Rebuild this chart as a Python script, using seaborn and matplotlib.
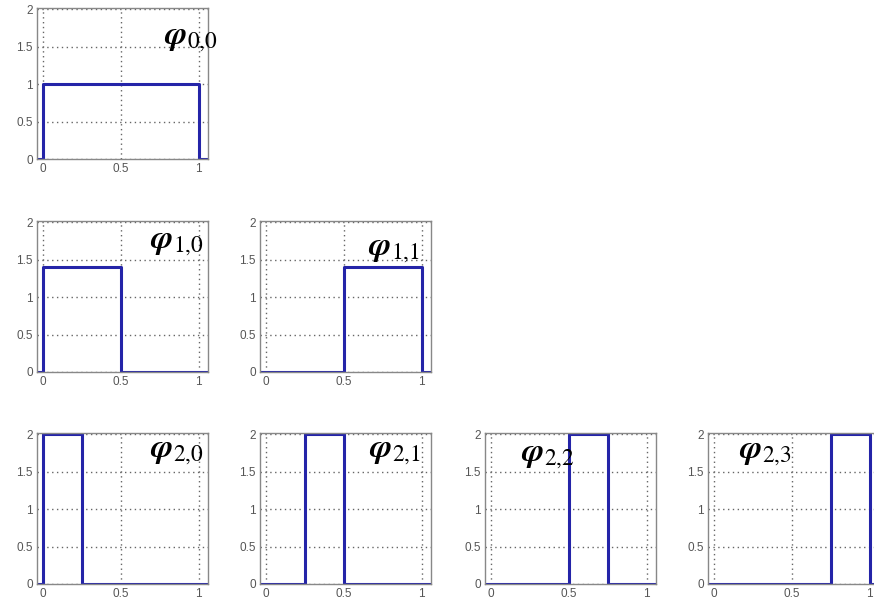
import numpy as np
import pandas as pd
import matplotlib
matplotlib.use("Agg")
import matplotlib.pyplot as plt
import seaborn as sns

# Haar scaling functions phi_{j,k}
levels = [0, 1, 1, 2, 2, 2, 2]
shifts = [0, 0, 1, 0, 1, 2, 3]
heights = [1.0, 1.41, 1.41, 2.0, 2.0, 2.0, 2.0]
x_ticks = [0, 0.5, 1]
y_ticks = [0, 0.5, 1, 1.5, 2]

# layout (pixels in a 874x606 figure): row tops, column lefts, label spots
W, H = 874, 606
row_top = {0: 8, 1: 221, 2: 433}
col_left = [37, 260, 485, 708]
ax_w, ax_h = 171, 151
label_xy = [(0.74, 0.80), (0.66, 0.86), (0.63, 0.81),
            (0.66, 0.88), (0.64, 0.88), (0.21, 0.85), (0.18, 0.87)]

sns.set_style("white")
plt.rcParams['font.family'] = ['Liberation Sans', 'DejaVu Sans']
plt.rcParams['mathtext.fontset'] = 'stix'

fig = plt.figure(figsize=(W / 100, H / 100), dpi=100)
line_color = '#2424a8'
xlo, xhi = -0.04, 1.06

for i, (j, k, h) in enumerate(zip(levels, shifts, heights)):
    a = k / 2 ** j
    b = (k + 1) / 2 ** j
    df = pd.DataFrame({'x': [xlo, a, a, b, b, xhi],
                       'y': [0, 0, h, h, 0, 0]})
    left = col_left[k]
    top = row_top[j]
    ax = fig.add_axes([left / W, 1 - (top + ax_h) / H, ax_w / W, ax_h / H])
    sns.lineplot(data=df, x='x', y='y', ax=ax, sort=False, estimator=None,
                 color=line_color, linewidth=2.2)
    ax.set_xlim(xlo, xhi)
    ax.set_ylim(0, 2.02)
    ax.set_xticks(x_ticks)
    ax.set_xticklabels(['0', '0.5', '1'])
    ax.set_yticks(y_ticks)
    ax.set_yticklabels(['0', '0.5', '1', '1.5', '2'])
    ax.set_xlabel('')
    ax.set_ylabel('')
    ax.grid(True, linestyle=(0, (1, 2.5)), color='#666666', linewidth=1.0)
    ax.tick_params(direction='in', length=3, labelsize=8.5,
                   labelcolor='#555555', color='#777777', pad=3)
    for s in ax.spines.values():
        s.set_color('#888888')
        s.set_linewidth(1.0)
    lx, ly = label_xy[i]
    ax.text(lx, ly, r'$\mathbfit{\varphi}_{%d{,}%d}$' % (j, k),
            transform=ax.transAxes,
            fontsize=24, va='center', ha='left', color='black')

fig.savefig('out.png', dpi=100)
